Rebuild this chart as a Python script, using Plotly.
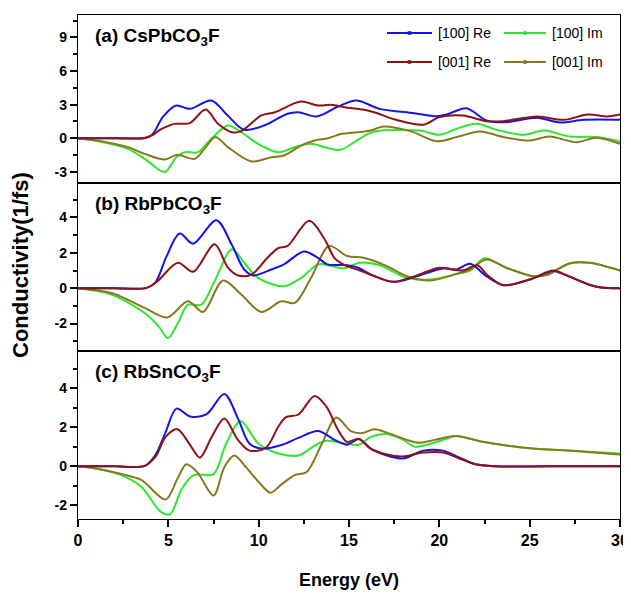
import plotly.graph_objects as go
from plotly.subplots import make_subplots

# ---------------- data ----------------
series_names = ["[100] Re", "[100] Im", "[001] Re", "[001] Im"]
series_colors = ["#1414e8", "#2fe62f", "#8e1212", "#877a1e"]
panel_labels = ["<b>(a) CsPbCO<sub>3</sub>F</b>", "<b>(b) RbPbCO<sub>3</sub>F</b>", "<b>(c) RbSnCO<sub>3</sub>F</b>"]

# panel (a) CsPbCO3F
a_e_re100 = [0, 2, 3.7, 4.1, 4.7, 5.44, 6.18, 7.38, 8.3, 9.2, 10.3, 11.6, 12.2, 13.2, 14.4, 15.4, 16.7, 18.6, 19.85, 20.4, 21.5, 22.6, 23.7, 25.4, 26.7, 28.0, 30]
a_re100 = [0, 0, 0.02, 0.3, 1.9, 2.92, 2.62, 3.37, 2.0, 0.75, 1.13, 2.18, 2.32, 1.94, 2.83, 3.37, 2.62, 2.23, 1.96, 2.11, 2.68, 1.58, 1.43, 1.82, 1.4, 1.64, 1.64]
a_e_im100 = [0, 1.2, 2.77, 3.69, 4.8, 5.44, 5.9, 6.64, 7.38, 8.3, 9.04, 9.96, 11.07, 12.0, 12.9, 13.65, 14.5, 15.3, 16.05, 16.6, 18.9, 20.0, 20.96, 22.05, 23.2, 24.65, 25.8, 27.2, 28.7, 30]
a_im100 = [0, -0.3, -0.95, -1.84, -3.03, -1.7, -1.25, -1.25, -0.05, 1.13, 0.53, -0.5, -1.25, -0.8, -0.5, -0.8, -1.04, -0.36, 0.39, 0.65, 0.68, 0.3, 0.84, 1.28, 0.74, 0.3, 0.68, 0.15, 0.1, -0.3]
a_e_re001 = [0, 2, 3.7, 4.1, 4.6, 5.35, 6.18, 7.07, 7.75, 8.5, 9.04, 10.15, 10.9, 12.0, 12.4, 13.3, 14.0, 14.76, 16.2, 17.6, 19.1, 20.0, 21.3, 22.6, 23.55, 25.4, 26.9, 28.2, 29.3, 30]
a_re001 = [0, 0, 0.02, 0.25, 0.8, 1.28, 1.34, 2.56, 1.28, 0.54, 0.63, 2.03, 2.32, 3.13, 3.28, 2.92, 2.98, 2.77, 2.41, 1.64, 1.2, 1.88, 2.03, 1.52, 1.52, 1.94, 1.64, 2.11, 1.94, 2.11]
a_e_im001 = [0, 1.2, 2.77, 3.69, 4.8, 5.5, 6.46, 7.0, 7.6, 8.3, 9.6, 10.7, 11.4, 12.36, 13.1, 13.84, 14.6, 15.3, 16.2, 16.9, 18.4, 19.85, 20.96, 22.25, 23.55, 25.0, 26.1, 27.6, 28.7, 30]
a_im001 = [0, -0.25, -0.8, -1.4, -1.9, -1.48, -1.84, -0.95, 0.1, -0.8, -2.08, -1.7, -1.55, -0.65, -0.2, 0.0, 0.39, 0.5, 0.68, 1.04, 0.63, -0.27, 0.1, 0.6, 0.1, -0.2, 0.15, -0.36, 0.05, -0.5]

# panel (b) RbPbCO3F
b_e_re100 = [0, 2, 3.8, 4.3, 4.9, 5.63, 6.37, 7.66, 8.5, 9.2, 9.7, 10.7, 11.4, 12.5, 13.3, 13.8, 14.76, 15.5, 16.2, 17.45, 18.75, 20.2, 20.96, 21.7, 22.6, 23.55, 25.0, 26.3, 26.9, 28.3, 28.9, 30]
b_re100 = [0, 0, 0.02, 0.35, 1.8, 3.09, 2.52, 3.85, 2.48, 1.06, 0.72, 1.06, 1.35, 2.07, 1.7, 1.35, 1.31, 1.16, 0.78, 0.36, 0.68, 1.12, 1.06, 1.38, 0.68, 0.17, 0.49, 0.97, 0.78, 0.2, 0.04, 0]
b_e_im100 = [0, 1.85, 3.69, 4.5, 4.98, 5.53, 6.09, 6.83, 7.56, 8.52, 9.2, 9.96, 11.4, 12.36, 13.3, 14.0, 14.7, 15.6, 16.7, 18.2, 19.5, 20.96, 21.7, 22.5, 23.7, 25.2, 25.95, 27.2, 28.3, 30]
b_im100 = [0, -0.36, -1.4, -2.2, -2.82, -1.97, -0.93, -0.93, 0.4, 2.2, 1.44, 0.59, 0.11, 0.59, 1.35, 1.26, 1.12, 1.44, 1.3, 0.59, 0.49, 0.81, 1.0, 1.69, 1.16, 0.68, 0.78, 1.4, 1.44, 1.0]
b_e_re001 = [0, 2, 3.8, 4.4, 5.53, 6.37, 7.56, 8.3, 8.86, 9.6, 10.5, 11.07, 11.6, 12.8, 13.65, 14.2, 14.76, 15.6, 16.6, 17.45, 18.7, 20.0, 21.3, 22.1, 22.7, 23.55, 25.0, 26.3, 27.0, 28.3, 29.0, 30]
b_re001 = [0, 0, 0.02, 0.4, 1.44, 0.93, 2.48, 1.16, 0.72, 0.77, 1.74, 2.26, 2.39, 3.81, 2.77, 1.7, 1.3, 1.0, 0.6, 0.36, 0.7, 1.16, 1.0, 1.3, 0.7, 0.17, 0.49, 1.0, 0.75, 0.2, 0.04, 0]
b_e_im001 = [0, 1.85, 3.69, 4.94, 6.09, 6.92, 8.03, 9.04, 10.15, 11.25, 12.0, 12.9, 13.9, 14.9, 15.8, 17.1, 18.2, 19.5, 20.96, 21.7, 22.6, 23.7, 25.2, 25.95, 27.2, 28.3, 30]
b_im001 = [0, -0.27, -1.11, -1.65, -0.74, -1.34, 0.44, -0.36, -1.34, -0.74, -0.83, 0.59, 2.39, 1.82, 1.72, 1.25, 0.68, 0.44, 0.81, 1.06, 1.63, 1.16, 0.68, 0.74, 1.4, 1.44, 1.0]

# panel (c) RbSnCO3F
c_e_re100 = [0, 2, 3.7, 4.3, 4.85, 5.45, 6.2, 7.1, 8.1, 8.85, 9.5, 10.2, 11.3, 12.2, 13.3, 14.2, 14.9, 15.55, 16.2, 17.1, 18.0, 19.1, 20.2, 21.1, 22.0, 23.1, 26, 30]
c_re100 = [0, 0, 0.02, 0.6, 1.75, 2.95, 2.55, 2.65, 3.7, 2.45, 1.15, 0.9, 1.1, 1.45, 1.8, 1.35, 1.1, 1.4, 0.9, 0.55, 0.4, 0.8, 0.8, 0.45, 0.1, 0.0, 0.0, 0.0]
c_e_im100 = [0, 1.2, 2.4, 3.5, 4.6, 5.1, 5.75, 6.4, 7.5, 8.2, 9.0, 10.0, 11.1, 12.2, 13.1, 13.75, 14.9, 15.55, 16.2, 17.1, 18.0, 18.65, 19.5, 20.4, 20.9, 22.4, 23.8, 25.3, 27.3, 30]
c_im100 = [0, -0.15, -0.45, -1.05, -2.35, -2.45, -1.15, -0.45, -0.4, 1.15, 2.3, 1.15, 0.65, 0.55, 1.05, 1.3, 1.15, 1.1, 1.5, 1.65, 1.35, 1.0, 1.15, 1.4, 1.55, 1.25, 1.05, 0.9, 0.8, 0.65]
c_e_re001 = [0, 2, 3.7, 4.3, 4.85, 5.5, 6.2, 6.75, 7.4, 8.1, 8.85, 9.5, 10.4, 11.1, 11.5, 12.2, 13.1, 13.75, 14.4, 14.9, 15.55, 16.2, 17.1, 18.0, 19.1, 20.2, 21.1, 22.0, 23.1, 26, 30]
c_re001 = [0, 0, 0.02, 0.5, 1.5, 1.9, 1.1, 0.45, 1.5, 2.45, 1.35, 0.8, 0.95, 2.05, 2.5, 2.65, 3.6, 3.05, 1.85, 1.25, 1.4, 0.9, 0.6, 0.5, 0.7, 0.7, 0.4, 0.1, 0.0, 0.0, 0.0]
c_e_im001 = [0, 1.2, 2.4, 3.5, 4.85, 5.5, 6.0, 6.6, 7.5, 8.1, 8.65, 9.3, 10.0, 10.65, 11.3, 12.0, 12.65, 13.5, 14.3, 15.1, 15.75, 16.4, 17.3, 18.2, 18.9, 19.75, 20.9, 22.4, 23.8, 25.3, 27.3, 30]
c_im001 = [0, -0.15, -0.4, -0.7, -1.7, -0.65, 0.1, -0.3, -1.5, -0.05, 0.55, -0.05, -0.8, -1.35, -0.9, -0.45, -0.3, 1.15, 2.5, 1.8, 1.7, 1.9, 1.65, 1.35, 1.2, 1.35, 1.55, 1.25, 1.05, 0.9, 0.8, 0.6]

# axes
x_range = [0, 30]
x_tickvals = [0, 5, 10, 15, 20, 25, 30]
x_ticktext = ["0", "5", "10", "15", "20", "25", "30"]
x_minorvals = [2.5, 7.5, 12.5, 17.5, 22.5, 27.5]
y_ranges = [[-4, 11], [-3.55, 5.95], [-2.7, 5.9]]
y_tickvals = [[-3, 0, 3, 6, 9], [-2, 0, 2, 4], [-2, 0, 2, 4]]
y_ticktext = [["-3", "0", "3", "6", "9"], ["-2", "0", "2", "4"], ["-2", "0", "2", "4"]]
y_minorvals = [[-1.5, 1.5, 4.5, 7.5, 10.5], [-3, -1, 1, 3, 5], [-1, 1, 3, 5]]
x_title = "Energy (eV)"
y_title = "Conductivity(1/fs)"

panels = [
    [(a_e_re100, a_re100), (a_e_im100, a_im100), (a_e_re001, a_re001), (a_e_im001, a_im001)],
    [(b_e_re100, b_re100), (b_e_im100, b_im100), (b_e_re001, b_re001), (b_e_im001, b_im001)],
    [(c_e_re100, c_re100), (c_e_im100, c_im100), (c_e_re001, c_re001), (c_e_im001, c_im001)],
]
draw_order = [1, 3, 0, 2]  # Im curves under Re curves

FONT = "Liberation Sans, Arial, sans-serif"
OFF = 8  # page body margin offset
W, H = 631 - OFF, 596 - OFF
# target plot box in screen pixels: x 78..620, y 15..519
ML, MT = 78 - OFF, 15 - OFF
MR = W - (620 - OFF)
MB = H - (519 - OFF)
PW, PH = W - ML - MR, H - MT - MB

def px_x(p):
    return (p - 78) / PW
def px_y(p):
    return (519 - p) / PH

fig = make_subplots(rows=3, cols=1, shared_xaxes=True, vertical_spacing=0)

for r, panel in enumerate(panels, start=1):
    for k in draw_order:
        xs, ys = panel[k]
        fig.add_trace(go.Scatter(x=xs, y=ys, mode="lines", name=series_names[k],
                                 line=dict(color=series_colors[k], width=2, shape="spline", smoothing=0.9),
                                 showlegend=False, hoverinfo="skip"), row=r, col=1)

for r in range(1, 4):
    bottom = (r == 3)
    fig.update_xaxes(row=r, col=1, range=x_range, showline=True, linecolor="black", linewidth=1.4,
                     mirror=True, showgrid=False, zeroline=False,
                     ticks="outside" if bottom else "", ticklen=7, tickwidth=1.5, tickcolor="black",
                     tickmode="array", tickvals=x_tickvals, ticktext=x_ticktext,
                     showticklabels=bottom,
                     tickfont=dict(family=FONT, size=16, color="black", weight="bold"),
                     minor=dict(ticks="outside" if bottom else "", tickmode="array", tickvals=x_minorvals,
                                ticklen=4, tickwidth=1.5, tickcolor="black"))
    fig.update_yaxes(row=r, col=1, range=y_ranges[r - 1], showline=True, linecolor="black", linewidth=1.4,
                     mirror=True, showgrid=False, zeroline=False,
                     ticks="outside", ticklen=7, tickwidth=1.5, tickcolor="black",
                     tickmode="array", tickvals=y_tickvals[r - 1], ticktext=y_ticktext[r - 1],
                     tickfont=dict(family=FONT, size=14, color="black", weight="bold"),
                     minor=dict(ticks="outside", tickmode="array", tickvals=y_minorvals[r - 1],
                                ticklen=4, tickwidth=1.5, tickcolor="black"))

annotations = []
for r, lab in enumerate(panel_labels, start=1):
    ysuf = "" if r == 1 else str(r)
    annotations.append(dict(text=lab, xref="x%s domain" % ysuf, yref="y%s domain" % ysuf,
                            x=15 / PW, y=1 - 22 / (PH / 3), xanchor="left", yanchor="middle",
                            showarrow=False, font=dict(family=FONT, size=19, color="black")))
annotations.append(dict(text="<b>%s</b>" % y_title, xref="paper", yref="paper",
                        x=px_x(20), y=px_y(265), textangle=-90,
                        xanchor="center", yanchor="middle", showarrow=False,
                        font=dict(family=FONT, size=22, color="black")))
annotations.append(dict(text="<b>%s</b>" % x_title, xref="paper", yref="paper",
                        x=0.5, y=px_y(580), xanchor="center", yanchor="middle",
                        showarrow=False, font=dict(family=FONT, size=18, color="black")))

# legend (two columns, two rows) built from series names/colours
shapes = []
leg_cols_px = [(387, 432, 436), (504, 546, 550)]
leg_rows_px = [33, 62]
leg_slots = [(0, 0), (0, 1), (1, 0), (1, 1)]
for k, (ri, ci) in enumerate(leg_slots):
    x0, x1, xt = leg_cols_px[ci]
    yy = leg_rows_px[ri]
    shapes.append(dict(type="line", xref="paper", yref="paper", x0=px_x(x0), x1=px_x(x1),
                       y0=px_y(yy), y1=px_y(yy), line=dict(color=series_colors[k], width=2)))
    cx = (x0 + x1) / 2
    shapes.append(dict(type="rect", xref="paper", yref="paper", x0=px_x(cx - 1.8), x1=px_x(cx + 1.8),
                       y0=px_y(yy + 1.8), y1=px_y(yy - 1.8), line=dict(width=0),
                       fillcolor=series_colors[k]))
    annotations.append(dict(text=series_names[k], xref="paper", yref="paper", x=px_x(xt), y=px_y(yy),
                            xanchor="left", yanchor="middle", showarrow=False,
                            font=dict(family=FONT, size=14, color="black")))

fig.update_layout(width=W, height=H, margin=dict(l=ML, r=MR, t=MT, b=MB, autoexpand=False),
                  paper_bgcolor="white", plot_bgcolor="white", showlegend=False,
                  annotations=annotations, shapes=shapes, font=dict(family=FONT, color="black"))

fig.write_html("out.html")
